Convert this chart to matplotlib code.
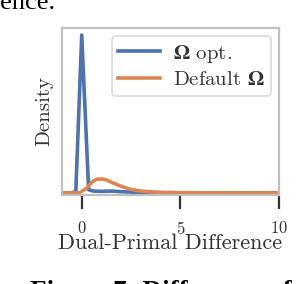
import matplotlib
matplotlib.use("Agg")
import matplotlib.pyplot as plt

# values (density, blue peak normalised to 1)
opt_x = [-1.0, -0.5, -0.3, 0.0, 0.35, 0.6, 1.0, 1.5, 2.0, 2.5, 3.0, 4.0, 6.0, 10.0]
opt_y = [0.0, 0.0, 0.01, 1.0, 0.02, 0.012, 0.01, 0.012, 0.008, 0.005, 0.002, 0.0, 0.0, 0.0]

default_x = [-1.0, -0.5, -0.1, 0.25, 0.5, 0.75, 1.0, 1.25, 1.5, 2.0, 2.5, 3.0, 3.5, 4.0, 5.0, 6.0, 8.0, 10.0]
default_y = [0.0, 0.0, 0.002, 0.03, 0.068, 0.086, 0.089, 0.082, 0.068, 0.042, 0.022, 0.012, 0.007, 0.004, 0.002, 0.001, 0.0, 0.0]

xticks = [0, 5, 10]

plt.rcParams['font.family'] = ['cmr10', 'DejaVu Serif']
plt.rcParams['mathtext.fontset'] = 'cm'
plt.rcParams['axes.formatter.use_mathtext'] = True

fig = plt.figure(figsize=(2.96, 2.84), dpi=100)
ax = fig.add_axes([62 / 296, 1 - 195 / 284, 217 / 296, 167 / 284])

ax.plot(opt_x, opt_y, color='#4C72B0', lw=2.6, label=r'$\mathbf{\Omega}$ opt.')
ax.plot(default_x, default_y, color='#DD8452', lw=2.6, label=r'Default $\mathbf{\Omega}$')

ax.set_xlim(-1.0, 10.0)
ax.set_ylim(-0.013, 1.045)
ax.set_xticks(xticks)
ax.set_yticks([])
ax.tick_params(axis='x', length=10, width=1.6, color='#333333', pad=8, labelsize=12, labelcolor='#333333')
for s in ax.spines.values():
    s.set_color('#c0c0c0')
    s.set_linewidth(1.6)

ax.set_xlabel('Dual-Primal Difference', fontsize=16, color='#333333', labelpad=-2.5)
ax.set_ylabel('Density', fontsize=15, color='#333333', labelpad=6)

leg = ax.legend(loc='upper right', fontsize=15, handlelength=2.0, handletextpad=0.6,
                borderpad=0.3, labelspacing=0.3, frameon=True,
                fancybox=True, borderaxespad=0.4, labelcolor='#333333')
leg.get_frame().set_edgecolor('#d0d0d0')
leg.get_frame().set_linewidth(1.2)
for t in leg.get_texts():
    t.set_math_fontfamily('stix')

# surrounding page text cut by the crop
fig.text(55 / 296, 1 - 9 / 284, 'difference.', ha='right', va='baseline',
         fontsize=19, family='Liberation Serif')
fig.text(30 / 296, 1 - 299 / 284, 'Figure 7: Difference of', ha='left', va='baseline',
         fontsize=19.5, family='Liberation Serif', weight='bold')

fig.savefig('out.png', dpi=100)
